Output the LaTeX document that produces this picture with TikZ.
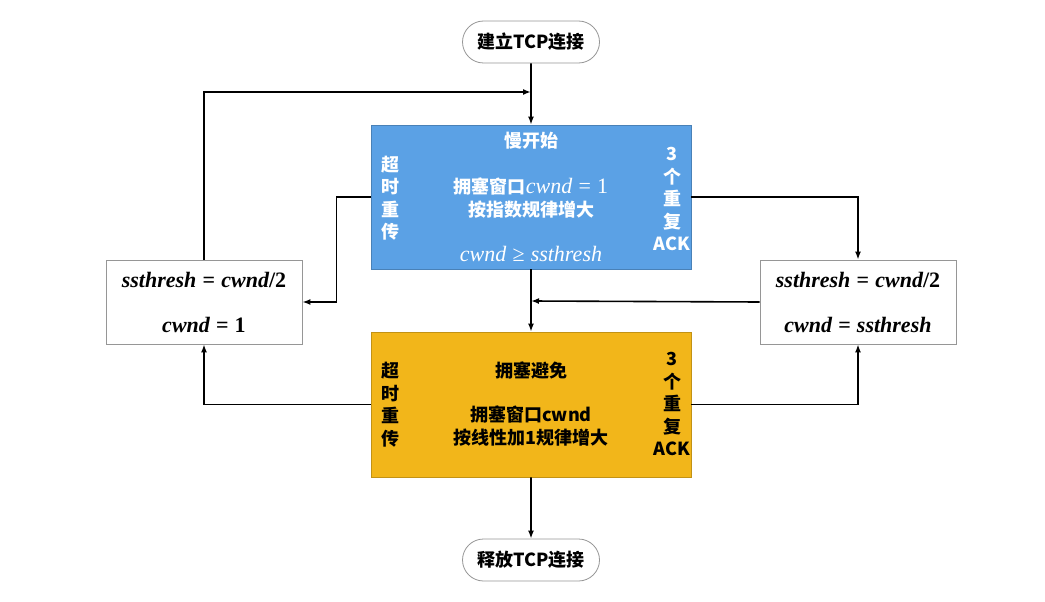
\documentclass[tikz,border=0pt]{standalone}
\usepackage{fontspec}
\setmainfont{Noto Sans CJK SC}
\newfontfamily\mfont{Liberation Serif}
\usetikzlibrary{arrows.meta,shapes.misc}
\definecolor{ssblue}{RGB}{91,161,229}
\definecolor{cagold}{RGB}{242,182,26}
\definecolor{edge}{RGB}{150,150,150}
% upright relation with math-like spacing between italic variable names
\newcommand\rel[1]{\hspace{0.28em}{\upshape #1}\hspace{0.28em}}
\newcommand\up[1]{{\upshape #1}}
\tikzset{
  txt/.style={font=\fontsize{18}{23}\selectfont\bfseries, inner sep=0pt},
  wt/.style={txt, text=white},
  bt/.style={txt, text=black},
  vtext/.style={align=center, font=\fontsize{18}{22.5}\selectfont\bfseries},
  term/.style={rounded rectangle, draw=edge, line width=0.8pt, fill=white,
    minimum width=137pt, minimum height=42pt, inner sep=0pt, txt},
  stagebox/.style={rectangle, draw=#1!80!black, line width=0.8pt, fill=#1,
    minimum width=320pt, minimum height=144pt, inner sep=0pt},
  wbox/.style={rectangle, draw=edge, line width=0.8pt, fill=white,
    minimum width=196pt, minimum height=84pt, inner sep=0pt},
  mth/.style={inner sep=0pt, font=\fontsize{22}{24}\mfont\bfseries\itshape},
  mthw/.style={inner sep=0pt, text=white, font=\fontsize{22}{24}\mfont\itshape},
  flow/.style={line width=1.6pt, -{Latex[length=8pt,width=6pt]}}
}
\begin{document}
\begin{tikzpicture}[x=1pt,y=-1pt]
\useasboundingbox (0,0) rectangle (1045,602);

% terminals and stage boxes
\node[term] (start) at (531,42) {建立TCP连接};
\node[stagebox=ssblue] (ss) at (531,197) {};
\node[stagebox=cagold, minimum height=145pt] (ca) at (531,404.5) {};
\node[wbox] (L) at (204,302) {};
\node[wbox] (R) at (858,302) {};
\node[term] (end) at (531,560) {释放TCP连接};

% slow start contents
\node[wt] (ssT) at (531,141) {慢开始};
\node[wt, vtext, text=white] (ssL) at (390,198) {超\\时\\重\\传};
\node[wt, vtext, text=white] (ssR) at (672,199) {3\\个\\重\\复\\ACK};
\node[wt, align=center] (ssM) at (531,198.5)
  {拥塞窗口{\fontsize{22}{24}\mfont\mdseries\itshape cwnd\rel{=}\up{1}}\\按指数规律增大};
\node[mthw] (ssB) at (531,254) {cwnd\rel{≥}ssthresh};

% congestion avoidance contents
\node[bt] (caT) at (531,371) {拥塞避免};
\node[bt, vtext] (caL) at (390,404.5) {超\\时\\重\\传};
\node[bt, vtext] (caR) at (672,404) {3\\个\\重\\复\\ACK};
\node[bt, align=center] (caM) at (531,426.5) {拥塞窗口cwnd\\按线性加1规律增大};

% threshold updates
\node[mth] (L1) at (204,280) {ssthresh\rel{=}cwnd\up{/2}};
\node[mth] (L2) at (204,325) {cwnd\rel{=}\up{1}};
\node[mth] (R1) at (858,280) {ssthresh\rel{=}cwnd\up{/2}};
\node[mth] (R2) at (858,325) {cwnd\rel{=}ssthresh};

% junctions on the vertical trunk
\coordinate (j1) at (531,92);
\coordinate (j2) at (531,301);

% connectors
\draw[flow] (start) -- (ss);
\draw[flow] (L.north) |- (j1);
\draw[flow] (ss.west) -- ++(-34,0) |- (L.east);
\draw[flow] (ss.east) -| (R.north);
\draw[flow] (ss) -- (ca);
\draw[flow] (R.west) -- (j2);
\draw[flow] (ca.west) -| (L.south);
\draw[flow] (ca.east) -| (R.south);
\draw[flow] (ca) -- (end);
\end{tikzpicture}
\end{document}
